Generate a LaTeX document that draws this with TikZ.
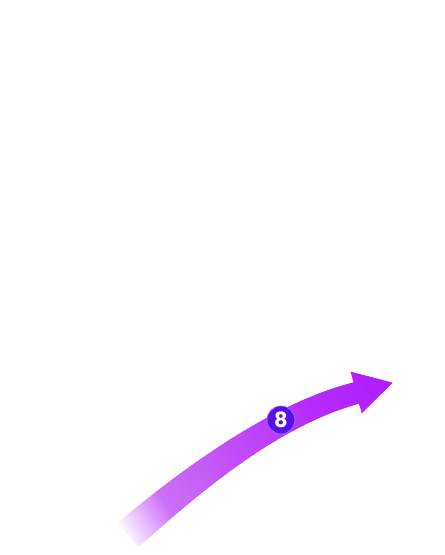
\documentclass[tikz,border=0pt]{standalone}
\usepackage{fontspec}
\newfontfamily\badgefont{Poppins}
\definecolor{c0}{HTML}{FFFFFF}
\definecolor{c1}{HTML}{CC6EF8}
\definecolor{c2}{HTML}{C45CF6}
\definecolor{c3}{HTML}{C04AF8}
\definecolor{c4}{HTML}{B52AFD}
\definecolor{c5}{HTML}{B01AFF}
\definecolor{badgefill}{HTML}{5A0FE8}
\definecolor{badgering}{HTML}{9C6CF4}
\tikzset{
  badge/.style={circle, fill=badgefill, draw=badgering, line width=0.8pt,
    minimum size=28pt, inner sep=0pt, text=white,
    font=\badgefont\bfseries\fontsize{21}{21}\selectfont},
}
% gradient segment: from s=#1 to s=#2, colour #3 -> #4, in #5 strips
\newcommand\gradseg[5]{%
  \foreach \k in {0,...,#5}{%
    \pgfmathsetmacro\pctv{100-100*\k/#5}%
    \pgfmathsetmacro\sa{#1+(#2-#1)*\k/(#5+1)}%
    \pgfmathsetmacro\sb{#1+(#2-#1)*(\k+1)/(#5+1)+0.6}%
    \fill[#3!\pctv!#4] (\sa,-150) rectangle (\sb,150);
  }%
}
\begin{document}
\begin{tikzpicture}[x=1pt,y=1pt]
\useasboundingbox (0,0) rectangle (445,555);
\fill[white] (0,0) rectangle (445,555);
\coordinate (b0) at (138.5,7.9);
\coordinate (b1) at (205.4,68.1);
\coordinate (b2) at (280.8,129.7);
\coordinate (b3) at (359.1,151.4);
\coordinate (t0) at (117.5,32.1);
\coordinate (t1) at (186.4,89.9);
\coordinate (t2) at (274.6,152.9);
\coordinate (t3) at (353.5,172.6);
\coordinate (hb) at (361.7,141.7);
\coordinate (tip) at (392.7,172.3);
\coordinate (ht) at (350.7,183.3);
\begin{scope}
  \clip (b0) .. controls (b1) and (b2) .. (b3) -- (hb) -- (tip) -- (ht) -- (t3)
        .. controls (t2) and (t1) .. (t0) -- cycle;
  \begin{scope}[shift={(128,20)}, rotate=32]
    \fill[c0] (-80,-150) rectangle (-5,150);
    \gradseg{-5}{50}{c0}{c1}{30}
    \gradseg{50}{100}{c1}{c2}{20}
    \gradseg{100}{140}{c2}{c3}{16}
    \gradseg{140}{230}{c3}{c4}{30}
    \gradseg{230}{310}{c4}{c5}{24}
    \fill[c5] (310,-150) rectangle (400,150);
  \end{scope}
\end{scope}
\node[badge] (n8) at (281,135) {8};
\end{tikzpicture}
\end{document}
